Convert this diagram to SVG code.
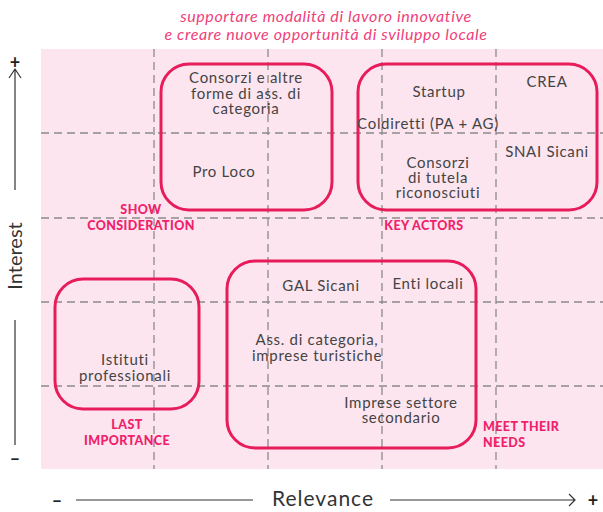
<svg xmlns="http://www.w3.org/2000/svg" width="603" height="512" viewBox="0 0 603 512">
<style>
.bg{fill:#fde5f0}
.grid line{stroke:#8a8a8a;stroke-width:1.3;stroke-dasharray:8 5}
.box{fill:none;stroke:#e81c5b;stroke-width:3}
.t{font-family:Lato,"Noto Sans",sans-serif;font-size:15px;letter-spacing:0.7px;fill:#444;text-anchor:middle}
.q{font-family:Lato,"Noto Sans",sans-serif;font-size:12.5px;letter-spacing:0.4px;font-weight:900;fill:#f0206a;text-anchor:middle}
.title{font-family:Lato,"Noto Sans",sans-serif;font-size:16px;letter-spacing:0.6px;font-style:italic;fill:#f0407a;text-anchor:middle}
.ax{font-family:Lato,"Noto Sans",sans-serif;font-size:20px;fill:#333;text-anchor:middle}
.sign{font-family:Lato,"Noto Sans",sans-serif;font-size:18px;font-weight:700;fill:#222;text-anchor:middle}
.axl{stroke:#333;stroke-width:1.2;fill:none}
</style>
<g id="title">
<text class="title" x="326" y="22">supportare modalità di lavoro innovative</text>
<text class="title" x="326" y="40">e creare nuove opportunità di sviluppo locale</text>
</g>
<rect class="bg" x="41" y="49" width="562" height="420"/>
<g class="grid" id="grid">
<line x1="41" y1="133" x2="603" y2="133"/>
<line x1="41" y1="218" x2="603" y2="218"/>
<line x1="41" y1="302" x2="603" y2="302"/>
<line x1="41" y1="386" x2="603" y2="386"/>
<line x1="154" y1="49" x2="154" y2="469"/>
<line x1="268" y1="49" x2="268" y2="469"/>
<line x1="382" y1="49" x2="382" y2="469"/>
<line x1="496" y1="49" x2="496" y2="469"/>
</g>
<g id="show-consideration">
<rect class="box" x="161" y="64" width="171" height="146" rx="28"/>
<text class="t" x="246" y="83">Consorzi e altre</text>
<text class="t" x="246" y="99">forme di ass. di</text>
<text class="t" x="246" y="114">categoria</text>
<text class="t" x="224" y="177">Pro Loco</text>
</g>
<g id="key-actors">
<rect class="box" x="358" y="64" width="239" height="146" rx="28"/>
<text class="t" x="439" y="97">Startup</text>
<text class="t" x="547" y="87">CREA</text>
<text class="t" x="428" y="129">Coldiretti (PA + AG)</text>
<text class="t" x="547" y="157">SNAI Sicani</text>
<text class="t" x="438" y="168">Consorzi</text>
<text class="t" x="438" y="183">di tutela</text>
<text class="t" x="438" y="198">riconosciuti</text>
</g>
<g id="last-importance">
<rect class="box" x="55" y="279" width="144" height="130" rx="28"/>
<text class="t" x="125" y="365">Istituti</text>
<text class="t" x="125" y="381">professionali</text>
</g>
<g id="meet-their-needs">
<rect class="box" x="227" y="261" width="249" height="187" rx="28"/>
<text class="t" x="321" y="291">GAL Sicani</text>
<text class="t" x="428" y="289">Enti locali</text>
<text class="t" x="317" y="345">Ass. di categoria,</text>
<text class="t" x="317" y="361">imprese turistiche</text>
<text class="t" x="401" y="408">Imprese settore</text>
<text class="t" x="401" y="423">secondario</text>
</g>
<g id="quadrant-labels">
<text class="q" x="141" y="214">SHOW</text>
<text class="q" x="141" y="230">CONSIDERATION</text>
<text class="q" x="424" y="230">KEY ACTORS</text>
<text class="q" x="127" y="429">LAST</text>
<text class="q" x="127" y="445">IMPORTANCE</text>
<text class="q" x="483" y="431" style="text-anchor:start">MEET THEIR</text>
<text class="q" x="483" y="447" style="text-anchor:start">NEEDS</text>
</g>
<g id="axes">
<text class="sign" x="15" y="69">+</text>
<path class="axl" d="M15 69 V190 M9 78 L15 69 L21 78"/>
<text class="ax" transform="translate(22 256) rotate(-90)">Interest</text>
<path class="axl" d="M15 320 V445"/>
<text class="sign" x="15" y="465">–</text>
<text class="sign" x="57" y="507">–</text>
<path class="axl" d="M76 500 H253"/>
<text class="ax" x="323" y="506" style="font-size:21px;letter-spacing:1px">Relevance</text>
<path class="axl" d="M390 500 H575 M569 494 L575 500 L569 506"/>
<text class="sign" x="593" y="507">+</text>
</g>
</svg>
